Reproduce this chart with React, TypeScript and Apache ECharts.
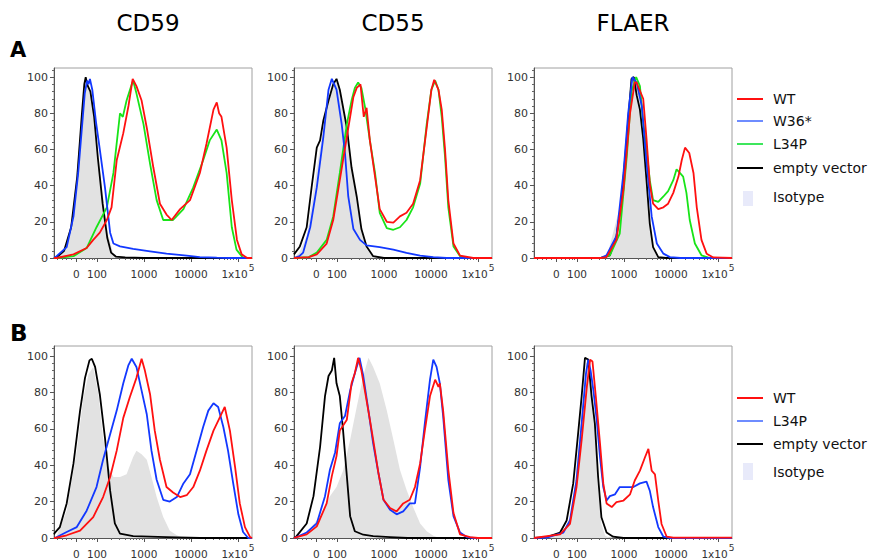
import React, { useEffect, useRef } from "react";
import * as echarts from "echarts";

// ---------- texts ----------
const COLUMN_TITLES = ["CD59", "CD55", "FLAER"];
const ROW_LABELS = ["A", "B"];
const LEGEND_A = ["WT", "W36*", "L34P", "empty vector", "Isotype"];
const LEGEND_B = ["WT", "L34P", "empty vector", "Isotype"];

// x axis: display position in decades of the biexponential (logicle-like) scale
const X_TICK_POS = [1.56, 2, 3, 4, 5];
const X_TICK_LABELS = ["{n|0}", "{n|100}", "{n|1000}", "{n|10000}", "{n|1x10}{sup|5}"];
const Y_TICKS = [0, 20, 40, 60, 80, 100];

// ---------- row A data: [decade position, % of max] ----------
const A_CD59_ISO = [[1.085,0],[1.17,0.5],[1.36,6],[1.49,25],[1.64,69],[1.745,98],[1.78,100],[1.84,94],[1.92,82],[2.02,58],[2.13,34],[2.23,14],[2.34,3],[2.45,0.5],[2.6,0],[5.3,0]];
const A_CD59_EMPTY = [[1.085,0],[1.15,0.5],[1.3,4],[1.45,17],[1.58,45],[1.68,80],[1.73,96],[1.76,100],[1.79,96],[1.86,92],[1.94,78],[2.02,55],[2.12,30],[2.22,11],[2.3,3],[2.4,0.8],[2.6,0.3],[3.0,0],[5.3,0]];
const A_CD59_W36 = [[1.085,0],[1.14,1],[1.355,6],[1.5,23],[1.6,47],[1.67,69],[1.74,91],[1.79,98],[1.82,96],[1.85,99],[1.9,93],[1.98,75],[2.06,60],[2.17,39],[2.28,14],[2.35,8],[2.49,6.4],[2.77,5],[3.13,3.7],[3.48,2.4],[3.91,1.3],[4.19,0.5],[4.55,0.2],[4.8,0],[5.3,0]];
const A_CD59_L34P = [[1.085,0],[1.14,0],[1.5,1],[1.78,5.5],[1.99,17],[2.21,28],[2.35,47],[2.49,80],[2.55,78],[2.63,87],[2.74,96],[2.77,98],[2.84,91],[2.99,74],[3.13,52],[3.27,32],[3.41,21],[3.62,21],[3.84,27],[4.05,39],[4.26,54],[4.4,65],[4.55,71],[4.65,65],[4.76,47],[4.87,17],[4.97,4.6],[5.11,0],[5.3,0]];
const A_CD59_WT = [[1.085,0],[1.14,0],[1.5,2],[1.78,5.5],[1.92,10],[2.06,14],[2.21,21],[2.31,28],[2.42,54],[2.56,69],[2.67,84],[2.76,99],[2.84,95],[2.95,87],[3.06,72],[3.2,50],[3.34,30],[3.48,24],[3.59,21],[3.77,27],[3.98,32],[4.19,47],[4.33,63],[4.48,82],[4.55,86],[4.6,80],[4.65,78],[4.76,61],[4.87,32],[4.98,10],[5.08,2],[5.2,0],[5.3,0]];

const A_CD55_ISO = [[1.085,0],[1.2,3],[1.355,12],[1.46,30],[1.57,50],[1.71,72],[1.82,86],[1.92,95],[1.99,98],[2.06,92],[2.21,70],[2.31,50],[2.42,32],[2.52,15],[2.63,5],[2.77,0.5],[2.9,0],[5.3,0]];
const A_CD55_EMPTY = [[1.085,2],[1.21,6.4],[1.355,17],[1.46,39],[1.57,61],[1.64,65],[1.71,76],[1.82,87],[1.92,96],[1.99,99],[2.06,93],[2.21,72],[2.31,50],[2.42,34],[2.52,16],[2.63,6.4],[2.77,1],[3.0,0],[5.3,0]];
const A_CD55_W36 = [[1.085,0],[1.2,1],[1.28,3],[1.43,17],[1.57,39],[1.71,67],[1.82,93],[1.89,99],[1.99,93],[2.1,74],[2.17,58],[2.24,34],[2.35,16],[2.49,10],[2.63,7],[2.91,6],[3.2,4.6],[3.48,2.8],[3.77,1.3],[4.05,0.5],[4.33,0],[5.3,0]];
const A_CD55_L34P = [[1.085,0],[1.4,0.5],[1.57,3],[1.78,10],[1.92,23],[2.06,47],[2.21,74],[2.31,87],[2.38,94],[2.45,97],[2.52,94],[2.6,83],[2.7,65],[2.81,47],[2.91,25],[3.06,16.5],[3.2,15.6],[3.34,17],[3.48,21],[3.62,28],[3.77,41],[3.91,74],[4.01,93],[4.09,98],[4.16,93],[4.23,78],[4.3,56],[4.37,28],[4.48,6.4],[4.62,1],[4.76,0],[5.3,0]];
const A_CD55_WT = [[1.085,0],[1.4,0.5],[1.57,2],[1.78,8],[1.92,21],[2.06,43],[2.21,67],[2.35,89],[2.42,94],[2.5,96],[2.57,78],[2.63,83],[2.7,65],[2.81,45],[2.91,27],[3.06,20],[3.2,19.6],[3.34,23],[3.48,25],[3.62,30],[3.77,43],[3.91,72],[4.01,93],[4.07,98.5],[4.16,93],[4.23,82],[4.3,60],[4.37,32],[4.48,8],[4.62,1.3],[4.9,0],[5.3,0]];

const A_FLAER_ISO = [[1.085,0],[2.63,0],[2.91,28],[3.06,75],[3.16,99],[3.23,100],[3.3,93],[3.41,75],[3.48,47],[3.55,21],[3.62,6],[3.7,0.5],[3.8,0],[5.3,0]];
const A_FLAER_EMPTY = [[1.085,0],[2.5,0],[2.7,1.5],[2.84,12],[2.95,32],[3.06,66],[3.16,99],[3.21,100],[3.27,90],[3.34,82],[3.41,66],[3.48,43],[3.55,19],[3.62,6],[3.73,0.5],[3.9,0],[5.3,0]];
const A_FLAER_W36 = [[1.085,0],[2.5,0],[2.63,1.5],[2.84,12],[2.99,47],[3.09,80],[3.18,100],[3.27,97],[3.38,84],[3.48,53],[3.59,23],[3.7,8],[3.84,2.4],[3.98,0.5],[4.2,0],[5.3,0]];
const A_FLAER_L34P = [[1.085,0],[2.5,0],[2.7,1.5],[2.91,13.5],[3.06,56],[3.16,92],[3.26,100],[3.34,95],[3.41,75],[3.48,60],[3.55,43],[3.62,32],[3.73,31],[3.84,34],[3.94,37],[4.05,43],[4.12,49],[4.19,47],[4.26,45],[4.33,36],[4.4,21],[4.51,8],[4.65,1.5],[4.83,0],[5.3,0]];
const A_FLAER_WT = [[1.085,0],[2.5,0],[2.63,0.5],[2.84,10],[2.99,38],[3.13,80],[3.23,97],[3.27,97],[3.33,93],[3.41,88],[3.48,66],[3.55,41],[3.62,30],[3.73,27],[3.84,28],[3.94,30],[4.05,36],[4.16,45],[4.23,54],[4.3,61],[4.39,58],[4.48,47],[4.55,28],[4.65,10],[4.76,2.4],[4.9,0.3],[5.3,0]];

// ---------- row B data ----------
const B_CD59_ISO = [[1.085,0],[1.14,1],[1.355,15],[1.57,48],[1.71,77],[1.82,90],[1.92,94],[2.03,79],[2.13,55],[2.24,39],[2.35,33.5],[2.49,33.5],[2.63,35],[2.77,44.5],[2.84,48],[2.95,46],[3.06,43],[3.16,33.5],[3.27,22.5],[3.41,11.5],[3.55,4],[3.7,1.5],[3.84,0],[5.3,0]];
const B_CD59_EMPTY = [[1.085,2],[1.106,3],[1.21,6],[1.355,19],[1.5,41],[1.64,70],[1.745,88],[1.84,97.6],[1.89,98.5],[1.96,94],[2.06,79],[2.17,55],[2.28,26],[2.38,8],[2.49,2.4],[2.77,1],[3.48,0.5],[4.19,0],[5.3,0]];
const B_CD59_L34P = [[1.085,0],[1.106,0],[1.355,3.3],[1.57,6],[1.78,15],[1.99,28],[2.13,43],[2.28,57],[2.42,70],[2.56,85],[2.67,95],[2.74,98.5],[2.84,94],[2.95,81],[3.06,68],[3.16,48],[3.27,32],[3.41,21],[3.55,20],[3.7,22.5],[3.84,30],[3.98,35],[4.12,48],[4.26,61],[4.37,70],[4.48,74],[4.58,72],[4.69,61],[4.79,48],[4.9,30],[5.01,13],[5.11,3.3],[5.22,0],[5.3,0]];
const B_CD59_WT = [[1.085,0],[1.106,0],[1.355,1.5],[1.64,4],[1.92,11.5],[2.13,22.5],[2.28,33.5],[2.42,48],[2.56,66],[2.7,77.5],[2.84,88],[2.95,98.5],[3.02,92],[3.13,79],[3.23,59],[3.34,43],[3.48,28],[3.62,25],[3.77,22.5],[3.91,23.5],[4.05,28],[4.19,37],[4.33,48],[4.48,59],[4.62,66.5],[4.72,72],[4.83,59],[4.94,39],[5.04,19],[5.15,6],[5.26,0.5],[5.3,0]];

const B_CD55_ISO = [[1.085,0],[1.355,3],[1.64,12],[1.85,23],[1.99,28],[2.13,37],[2.28,54],[2.42,72],[2.56,89],[2.67,99],[2.77,94],[2.91,85],[3.06,70],[3.2,54],[3.34,37.5],[3.48,26.5],[3.62,17],[3.77,8],[3.91,3.7],[4.05,1.3],[4.19,0],[5.3,0]];
const B_CD55_EMPTY = [[1.085,0],[1.14,1],[1.355,8],[1.5,23],[1.64,50],[1.745,78],[1.82,89],[1.89,92],[1.94,99],[1.99,85],[2.06,78],[2.13,59],[2.21,34],[2.28,12],[2.38,3.7],[2.56,1.8],[2.77,1],[3.13,0.5],[3.5,0],[5.3,0]];
const B_CD55_L34P = [[1.085,0],[1.14,0.5],[1.355,3],[1.57,8],[1.745,23],[1.85,37.5],[1.96,47],[2.06,63],[2.17,67],[2.28,81],[2.38,90.5],[2.48,99],[2.56,89],[2.67,70],[2.77,52],[2.88,36],[2.99,21],[3.13,15.5],[3.27,13],[3.41,14.6],[3.55,19],[3.66,19],[3.77,39],[3.87,63],[3.98,87],[4.05,98],[4.12,94],[4.19,85],[4.26,67],[4.37,32],[4.48,12],[4.62,3],[4.76,0.5],[4.9,0],[5.3,0]];
const B_CD55_WT = [[1.085,0],[1.14,0.5],[1.355,2],[1.57,6.4],[1.78,19],[1.89,34],[1.99,45],[2.06,59],[2.21,65],[2.31,85],[2.38,90.5],[2.45,99],[2.52,92],[2.6,80],[2.7,65],[2.77,54],[2.88,36],[2.99,21],[3.13,16.5],[3.27,14.6],[3.41,19],[3.55,21],[3.66,28],[3.77,41],[3.87,59],[3.98,78],[4.09,87],[4.16,83],[4.19,85],[4.26,70],[4.37,37.5],[4.48,13.7],[4.62,2],[4.83,0.5],[5.0,0],[5.3,0]];

const B_FLAER_ISO = [[1.085,0],[1.5,0.5],[1.71,4],[1.85,11],[1.96,30],[2.06,59],[2.13,78],[2.19,96],[2.24,97],[2.31,87],[2.38,59],[2.45,26],[2.52,7.7],[2.6,1.3],[2.7,0],[5.3,0]];
const B_FLAER_EMPTY = [[1.085,0],[1.355,0.5],[1.64,3],[1.78,9.6],[1.92,30],[2.03,59],[2.1,78],[2.17,99],[2.24,98],[2.31,78],[2.38,63],[2.45,33.5],[2.52,11.4],[2.63,3],[2.77,0.7],[2.99,0],[5.3,0]];
const B_FLAER_L34P = [[1.085,0],[1.355,0.2],[1.71,3],[1.85,9.6],[1.99,31.6],[2.1,63],[2.19,90],[2.24,98],[2.29,92],[2.35,81],[2.42,65],[2.49,44.5],[2.56,28],[2.63,20.6],[2.7,23],[2.81,24],[2.91,28],[3.06,28],[3.2,28],[3.34,30],[3.48,31],[3.55,26],[3.62,17],[3.73,6],[3.84,0.7],[3.98,0],[5.3,0]];
const B_FLAER_WT = [[1.085,0],[1.64,2],[1.85,7.7],[1.99,28],[2.1,54],[2.21,83],[2.28,98],[2.33,97],[2.4,78],[2.49,52],[2.56,30],[2.63,19],[2.74,17],[2.84,19.7],[2.99,20.6],[3.13,24],[3.23,31.6],[3.34,37],[3.45,44.5],[3.52,49],[3.59,37],[3.66,35],[3.73,20.6],[3.8,7.7],[3.91,0.7],[4.05,0.2],[5.3,0.2]];

// ---------- styling ----------
const RED = "#ff1010";
const BLUE = "#1238ff";
const GREEN = "#18e418";
const BLACK = "#000000";
const ISO_FILL = "#e2e2e2";
const LEG_BLUE = "#6e8cff";
const LEG_GREEN = "#3ee65c";
const ISO_SWATCH = "#e8eafa";
const FONT = "DejaVu Sans";

const X_MIN = 1.085;
const X_MAX = 5.3;

type Spec = { name: string; data: number[][]; color: string; iso?: boolean };

const PANELS: { row: number; col: number; series: Spec[] }[] = [
  { row: 0, col: 0, series: [
    { name: "Isotype", data: A_CD59_ISO, color: ISO_FILL, iso: true },
    { name: "empty vector", data: A_CD59_EMPTY, color: BLACK },
    { name: "L34P", data: A_CD59_L34P, color: GREEN },
    { name: "W36*", data: A_CD59_W36, color: BLUE },
    { name: "WT", data: A_CD59_WT, color: RED } ] },
  { row: 0, col: 1, series: [
    { name: "Isotype", data: A_CD55_ISO, color: ISO_FILL, iso: true },
    { name: "empty vector", data: A_CD55_EMPTY, color: BLACK },
    { name: "L34P", data: A_CD55_L34P, color: GREEN },
    { name: "W36*", data: A_CD55_W36, color: BLUE },
    { name: "WT", data: A_CD55_WT, color: RED } ] },
  { row: 0, col: 2, series: [
    { name: "Isotype", data: A_FLAER_ISO, color: ISO_FILL, iso: true },
    { name: "empty vector", data: A_FLAER_EMPTY, color: BLACK },
    { name: "L34P", data: A_FLAER_L34P, color: GREEN },
    { name: "W36*", data: A_FLAER_W36, color: BLUE },
    { name: "WT", data: A_FLAER_WT, color: RED } ] },
  { row: 1, col: 0, series: [
    { name: "Isotype", data: B_CD59_ISO, color: ISO_FILL, iso: true },
    { name: "empty vector", data: B_CD59_EMPTY, color: BLACK },
    { name: "L34P", data: B_CD59_L34P, color: BLUE },
    { name: "WT", data: B_CD59_WT, color: RED } ] },
  { row: 1, col: 1, series: [
    { name: "Isotype", data: B_CD55_ISO, color: ISO_FILL, iso: true },
    { name: "empty vector", data: B_CD55_EMPTY, color: BLACK },
    { name: "L34P", data: B_CD55_L34P, color: BLUE },
    { name: "WT", data: B_CD55_WT, color: RED } ] },
  { row: 1, col: 2, series: [
    { name: "Isotype", data: B_FLAER_ISO, color: ISO_FILL, iso: true },
    { name: "empty vector", data: B_FLAER_EMPTY, color: BLACK },
    { name: "L34P", data: B_FLAER_L34P, color: BLUE },
    { name: "WT", data: B_FLAER_WT, color: RED } ] },
];

const GRID_LEFT = [54, 294, 534];
const GRID_TOP = [68, 346];
const GRID_H = [190, 192];
const Y_MAX = [105, 105.5];

function buildOption() {
  const xMinor: number[] = [1.15, 1.25, 1.35, 1.45, 1.66, 1.75, 1.83, 1.9, 1.95];
  for (let d = 2; d < 5; d++) for (let k = 2; k <= 9; k++) xMinor.push(d + Math.log10(k));
  const yMinor: number[] = [];
  for (let v = 4; v <= 104; v += 4) if (v % 20 !== 0) yMinor.push(v);

  const grid: any[] = [];
  const xAxis: any[] = [];
  const yAxis: any[] = [];
  const series: any[] = [];

  PANELS.forEach((p, i) => {
    grid.push({
      left: GRID_LEFT[p.col], top: GRID_TOP[p.row], width: 198, height: GRID_H[p.row],
      show: true, borderColor: "#a0a0a0", borderWidth: 1, backgroundColor: "transparent",
      outerBoundsMode: "none",
    });
    xAxis.push({
      type: "value", gridIndex: i, min: X_MIN, max: X_MAX, position: "bottom",
      axisLine: { show: true, onZero: false, lineStyle: { color: "#555", width: 1 } },
      axisTick: { show: true, customValues: X_TICK_POS, length: 4, lineStyle: { color: "#555" } },
      axisLabel: {
        show: true, customValues: X_TICK_POS, margin: 5, fontSize: 10.5, fontFamily: FONT, color: "#333",
        formatter: (v: number) => {
          const k = X_TICK_POS.findIndex((q) => Math.abs(q - v) < 1e-6);
          return k >= 0 ? X_TICK_LABELS[k] : "";
        },
        rich: {
          n: { fontSize: 10.5, fontFamily: FONT, color: "#333", padding: [5, 0, 0, 0], verticalAlign: "bottom" },
          sup: { fontSize: 9, fontFamily: FONT, color: "#333", padding: [0, 0, 0, 1], verticalAlign: "top" },
        },
      },
      splitLine: { show: false },
    });
    xAxis.push({
      type: "value", gridIndex: i, min: X_MIN, max: X_MAX, position: "bottom",
      axisLine: { show: false },
      axisTick: { show: true, customValues: xMinor, length: 2, lineStyle: { color: "#666" } },
      axisLabel: { show: false }, splitLine: { show: false },
    });
    yAxis.push({
      type: "value", gridIndex: i, min: 0, max: Y_MAX[p.row], position: "left",
      axisLine: { show: true, onZero: false, lineStyle: { color: "#555", width: 1 } },
      axisTick: { show: true, customValues: Y_TICKS, length: 4, lineStyle: { color: "#555" } },
      axisLabel: { show: true, customValues: Y_TICKS, margin: 6, fontSize: 11, fontFamily: FONT, color: "#333" },
      splitLine: { show: false },
    });
    yAxis.push({
      type: "value", gridIndex: i, min: 0, max: Y_MAX[p.row], position: "left",
      axisLine: { show: false },
      axisTick: { show: true, customValues: yMinor, length: 2, lineStyle: { color: "#666" } },
      axisLabel: { show: false }, splitLine: { show: false },
    });
    p.series.forEach((s) => {
      series.push({
        type: "line", name: s.name, xAxisIndex: 2 * i, yAxisIndex: 2 * i,
        data: s.data, symbol: "none", smooth: false, silent: true,
        lineStyle: s.iso ? { width: 0, opacity: 0 } : { color: s.color, width: 1.8 },
        areaStyle: s.iso ? { color: ISO_FILL, opacity: 1 } : undefined,
        z: s.iso ? 1 : 2,
      });
    });
  });

  const graphic: any[] = [];
  const titleX = [148, 393, 633];
  COLUMN_TITLES.forEach((t, i) => {
    graphic.push({ type: "text", x: titleX[i], y: 23,
      style: { text: t, fontSize: 23, fontFamily: FONT, fill: "#000", align: "center", verticalAlign: "middle" } });
  });
  graphic.push({ type: "text", x: 10, y: 50,
    style: { text: ROW_LABELS[0], fontSize: 21, fontWeight: "bold", fontFamily: FONT, fill: "#000", align: "left", verticalAlign: "middle" } });
  graphic.push({ type: "text", x: 10, y: 333,
    style: { text: ROW_LABELS[1], fontSize: 23, fontWeight: "bold", fontFamily: FONT, fill: "#000", align: "left", verticalAlign: "middle" } });

  const legA = [
    { t: LEGEND_A[0], c: RED, y: 99 },
    { t: LEGEND_A[1], c: LEG_BLUE, y: 121 },
    { t: LEGEND_A[2], c: LEG_GREEN, y: 144 },
    { t: LEGEND_A[3], c: BLACK, y: 168 },
  ];
  const legB = [
    { t: LEGEND_B[0], c: RED, y: 398 },
    { t: LEGEND_B[1], c: LEG_BLUE, y: 421 },
    { t: LEGEND_B[2], c: BLACK, y: 444 },
  ];
  [...legA, ...legB].forEach((l) => {
    graphic.push({ type: "line", shape: { x1: 737, y1: l.y, x2: 763, y2: l.y }, style: { stroke: l.c, lineWidth: 2 } });
    graphic.push({ type: "text", x: 773, y: l.y,
      style: { text: l.t, fontSize: 14, fontFamily: FONT, fill: "#111", align: "left", verticalAlign: "middle" } });
  });
  [{ t: LEGEND_A[4], y: 197, top: 191, h: 15 }, { t: LEGEND_B[3], y: 472, top: 463, h: 17 }].forEach((l) => {
    graphic.push({ type: "rect", shape: { x: 743, y: l.top, width: 10, height: l.h }, style: { fill: ISO_SWATCH } });
    graphic.push({ type: "text", x: 773, y: l.y,
      style: { text: l.t, fontSize: 14, fontFamily: FONT, fill: "#111", align: "left", verticalAlign: "middle" } });
  });

  return { animation: false, backgroundColor: "#ffffff", grid, xAxis, yAxis, series, graphic };
}

export default function App() {
  const ref = useRef<HTMLDivElement>(null);
  useEffect(() => {
    if (!ref.current) return;
    const chart = echarts.init(ref.current, undefined, { renderer: "svg" });
    chart.setOption(buildOption() as any);
    return () => chart.dispose();
  }, []);
  return <div ref={ref} style={{ position: "absolute", left: 0, top: 0, width: 870, height: 558 }} />;
}
